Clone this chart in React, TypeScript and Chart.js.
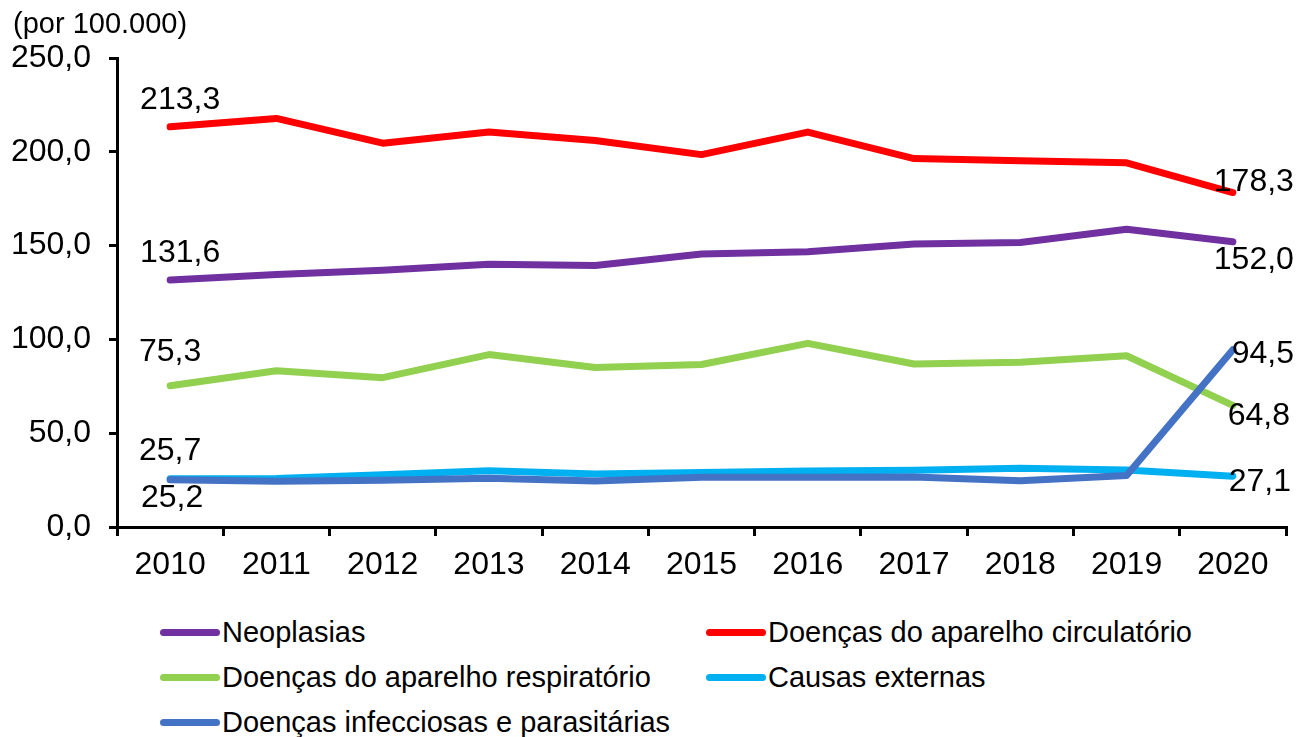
import React, { useEffect, useRef } from "react";
import { Chart, registerables } from "chart.js";

Chart.register(...registerables);

const FONT = "'Liberation Sans', Arial, Helvetica, sans-serif";

const years = ["2010", "2011", "2012", "2013", "2014", "2015", "2016", "2017", "2018", "2019", "2020"];
const neoplasias = [131.6, 134.6, 136.8, 140.1, 139.4, 145.5, 146.7, 150.8, 151.7, 158.7, 152.0];
const circulatorio = [213.3, 217.8, 204.6, 210.5, 206.0, 198.5, 210.5, 196.4, 195.2, 194.1, 178.3];
const respiratorio = [75.3, 83.3, 79.6, 91.9, 85.0, 86.6, 97.9, 86.9, 87.8, 91.3, 64.8];
const externas = [25.7, 25.9, 27.8, 30.0, 28.3, 29.0, 29.8, 30.2, 31.3, 30.4, 27.1];
const infecciosas = [25.2, 24.4, 24.9, 26.0, 24.5, 26.5, 26.5, 26.7, 24.6, 27.5, 94.5];

const seriesNames = [
  "Neoplasias",
  "Doenças do aparelho circulatório",
  "Doenças do aparelho respiratório",
  "Causas externas",
  "Doenças infecciosas e parasitárias",
];
const seriesColors = ["#7030A0", "#FF0000", "#92D050", "#00B0F0", "#4472C4"];
const seriesData = [neoplasias, circulatorio, respiratorio, externas, infecciosas];

const yMin = 0;
const yMax = 250;
const yStep = 50;
const unitLabel = "(por 100.000)";

// label offsets (dx, dy) relative to first / last point of each series
const firstLabelOffsets = [
  [10, -18],
  [10, -18],
  [0, -25],
  [0, -19],
  [2, 27],
];
const lastLabelOffsets = [
  [21, 27],
  [21, -2],
  [26, 20],
  [27, 15],
  [30, 13],
];

const fmt = (v: number) => v.toFixed(1).replace(".", ",");

const endLabelsPlugin = {
  id: "endLabels",
  afterDatasetsDraw(chart: any) {
    const ctx = chart.ctx;
    ctx.save();
    ctx.font = `32px ${FONT}`;
    ctx.fillStyle = "#000";
    ctx.textAlign = "center";
    ctx.textBaseline = "alphabetic";
    chart.data.datasets.forEach((ds: any, i: number) => {
      const meta = chart.getDatasetMeta(i);
      const pts = meta.data;
      if (!pts.length) return;
      const first = pts[0];
      const last = pts[pts.length - 1];
      const fo = firstLabelOffsets[i];
      const lo = lastLabelOffsets[i];
      ctx.fillText(fmt(ds.data[0]), first.x + fo[0], first.y + fo[1]);
      ctx.fillText(fmt(ds.data[ds.data.length - 1]), last.x + lo[0], last.y + lo[1]);
    });
    ctx.restore();
  },
};

const unitTitlePlugin = {
  id: "unitTitle",
  afterDraw(chart: any) {
    const ctx = chart.ctx;
    ctx.save();
    ctx.font = `29px ${FONT}`;
    ctx.fillStyle = "#000";
    ctx.textAlign = "left";
    ctx.textBaseline = "alphabetic";
    ctx.fillText(unitLabel, 13, 33);
    ctx.restore();
  },
};

export default function App() {
  const canvasRef = useRef<HTMLCanvasElement | null>(null);

  useEffect(() => {
    if (!canvasRef.current) return;
    const datasets = seriesNames.map((name, i) => ({
      label: name,
      data: seriesData[i],
      borderColor: seriesColors[i],
      backgroundColor: seriesColors[i],
      borderWidth: 7,
      pointRadius: 0,
      pointHoverRadius: 0,
      tension: 0,
      fill: false,
      borderCapStyle: "round" as const,
      borderJoinStyle: "round" as const,
      order: i === 4 ? 0 : 1,
    }));
    const chart = new Chart(canvasRef.current, {
      type: "line",
      data: { labels: years, datasets },
      plugins: [endLabelsPlugin, unitTitlePlugin],
      options: {
        animation: false,
        responsive: false,
        devicePixelRatio: 1,
        layout: { padding: { top: 58, right: 10, left: 0, bottom: 0 } },
        plugins: {
          legend: { display: false },
          tooltip: { enabled: false },
          title: { display: false },
        },
        scales: {
          x: {
            type: "category",
            offset: true,
            grid: {
              offset: true,
              drawOnChartArea: false,
              drawTicks: true,
              tickLength: 9,
              color: "#000",
              lineWidth: 3,
            },
            border: { color: "#000", width: 3 },
            ticks: {
              color: "#000",
              font: { family: FONT, size: 32 },
              padding: 10,
              maxRotation: 0,
              autoSkip: false,
            },
            afterFit: (s: any) => {
              s.height = 73;
            },
          },
          y: {
            min: yMin,
            max: yMax,
            grid: {
              drawOnChartArea: false,
              drawTicks: true,
              tickLength: 8,
              color: "#000",
              lineWidth: 3,
            },
            border: { color: "#000", width: 3 },
            ticks: {
              stepSize: yStep,
              color: "#000",
              font: { family: FONT, size: 32 },
              padding: 18,
              callback: (v: any) => fmt(Number(v)),
            },
            afterFit: (s: any) => {
              s.width = 117;
            },
          },
        },
      },
    });
    return () => chart.destroy();
  }, []);

  const legendPos = [
    { left: 160, top: 632 },
    { left: 706, top: 632 },
    { left: 160, top: 677 },
    { left: 706, top: 677 },
    { left: 160, top: 722 },
  ];

  return (
    <div
      style={{
        position: "absolute",
        left: 0,
        top: 0,
        width: 1296,
        height: 737,
        background: "#fff",
        overflow: "hidden",
        fontFamily: FONT,
      }}
    >
      <canvas
        ref={canvasRef}
        width={1296}
        height={600}
        style={{ display: "block", width: 1296, height: 600 }}
      />
      {seriesNames.map((name, i) => (
        <div
          key={name}
          style={{
            position: "absolute",
            left: legendPos[i].left,
            top: legendPos[i].top - 20,
            height: 40,
            display: "flex",
            alignItems: "center",
            whiteSpace: "nowrap",
          }}
        >
          <span
            style={{
              display: "inline-block",
              width: 60,
              height: 7,
              borderRadius: 4,
              background: seriesColors[i],
              marginRight: 2,
            }}
          />
          <span style={{ fontSize: 29, color: "#000", lineHeight: "40px" }}>{name}</span>
        </div>
      ))}
    </div>
  );
}
